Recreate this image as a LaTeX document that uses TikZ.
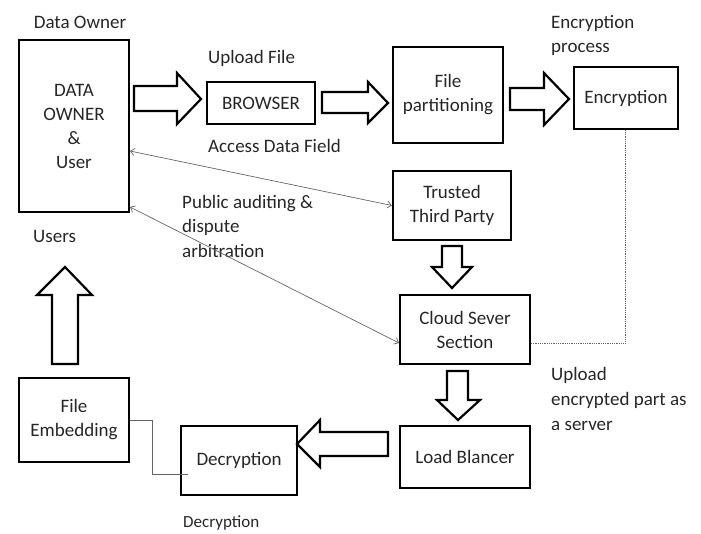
\documentclass[tikz,border=0pt]{standalone}
\usepackage{fontspec}
\setmainfont{Carlito}
\usetikzlibrary{arrows.meta,calc}
\begin{document}
\begin{tikzpicture}[x=1pt,y=-1pt,
  every node/.style={font=\fontsize{19}{24}\selectfont, text=black!85},
  boxnode/.style={draw=black, line width=2.3pt, fill=white, align=center, inner sep=0pt},
  lbl/.style={inner sep=0pt, anchor=base west},
  blockarrow/.style={draw=black, line width=2.2pt, fill=white, line join=miter},
  thinline/.style={draw=black!60, line width=0.8pt},
  dbl/.style={draw=black!60, line width=0.7pt, {Straight Barb[length=4pt,width=7pt]}-{Straight Barb[length=4pt,width=7pt]}}
]
\useasboundingbox (0,0) rectangle (701,533);
% boxes
\node[boxnode, minimum width=110pt, minimum height=172pt] (owner) at (74,126) {DATA\\OWNER\\\&\\User};
\node[boxnode, minimum width=108pt, minimum height=42pt] (browser) at (261,103) {BROWSER};
\node[boxnode, minimum width=110pt, minimum height=96pt] (part) at (448,95) {File\\partitioning};
\node[boxnode, minimum width=104pt, minimum height=62pt] (enc) at (626,98) {Encryption};
\node[boxnode, minimum width=118pt, minimum height=69pt] (ttp) at (452,205.5) {Trusted\\Third Party};
\node[boxnode, minimum width=130pt, minimum height=69pt] (cloud) at (465,329.5) {Cloud Sever\\Section};
\node[boxnode, minimum width=130pt, minimum height=62pt] (load) at (465,457) {Load Blancer};
\node[boxnode, minimum width=116pt, minimum height=69pt] (dec) at (239,460.5) {Decryption};
\node[boxnode, minimum width=110pt, minimum height=84pt] (emb) at (74,420) {File\\Embedding};
% labels
\node[lbl, anchor=base] (tOwner) at (80,28) {Data Owner};
\node[lbl] (tUpload) at (208,63) {Upload File};
\node[lbl] (tAccess) at (208,152) {Access Data Field};
\node[lbl] (tEnc1) at (551,28) {Encryption};
\node[lbl] (tEnc2) at (551,52) {process};
\node[lbl] (tPub1) at (182,208) {Public auditing \&};
\node[lbl] (tPub2) at (182,232) {dispute};
\node[lbl] (tPub3) at (182,257) {arbitration};
\node[lbl] (tUsers) at (33,242) {Users};
\node[lbl] (tUp1) at (551,380) {Upload};
\node[lbl] (tUp2) at (551,405) {encrypted part as};
\node[lbl] (tUp3) at (551,430) {a server};
\node[lbl, font=\fontsize{17}{20}\selectfont] (tDec) at (183,527.5) {Decryption};
% block arrows
\draw[blockarrow] (134,86) -- (177,86) -- (177,73) -- (201,99) -- (177,124) -- (177,111) -- (134,111) -- cycle;
\draw[blockarrow] (322,92) -- (368,92) -- (368,82) -- (388,103) -- (368,123) -- (368,113) -- (322,113) -- cycle;
\draw[blockarrow] (510,88) -- (544,88) -- (544,73) -- (569,99) -- (544,125) -- (544,110) -- (510,110) -- cycle;
\draw[blockarrow] (442,246) -- (462,246) -- (462,267) -- (472,267) -- (452,288) -- (432,267) -- (442,267) -- cycle;
\draw[blockarrow] (447,371) -- (468,371) -- (468,400) -- (480,400) -- (458,420) -- (437,400) -- (447,400) -- cycle;
\draw[blockarrow] (388,432) -- (320,432) -- (320,420) -- (297,444) -- (320,467) -- (320,456) -- (388,456) -- cycle;
\draw[blockarrow] (52,364) -- (52,295) -- (37,295) -- (65,267) -- (92,295) -- (78,295) -- (78,364) -- cycle;
% thin connectors
\coordinate (c1) at (625,343);
\draw[thinline, densely dotted] (enc.south -| c1) -- (c1) -- (c1 -| cloud.east);
\coordinate (e1) at (152,420);
\coordinate (e2) at (152,474);
\coordinate (e3) at (188,474);
\draw[thinline] (emb.east |- e1) -- (e1) -- (e2) -- (e3);
\coordinate (o1) at (130,151);
\coordinate (o2) at (130,207);
\coordinate (cw) at (399,343);
\draw[dbl] (o1) -- (ttp.west);
\draw[dbl] (o2) -- (cw);
\end{tikzpicture}
\end{document}
